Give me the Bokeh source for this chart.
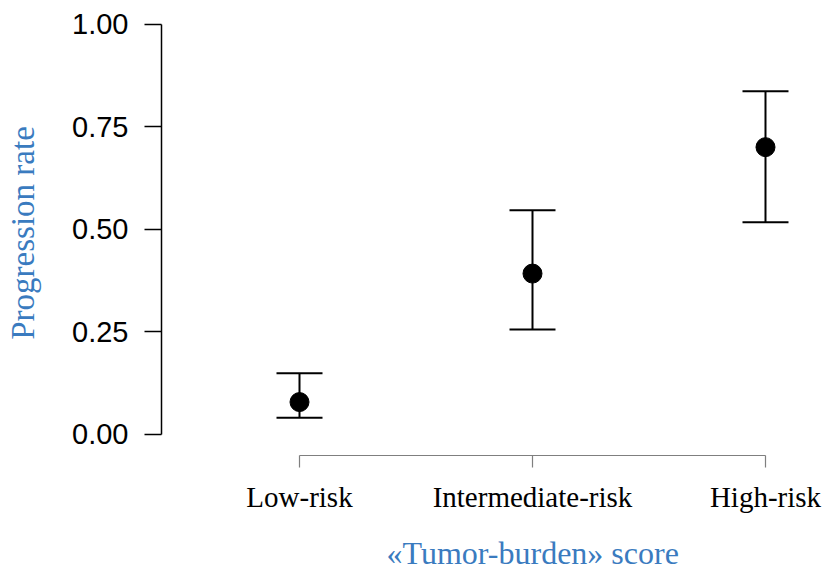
from bokeh.plotting import figure
from bokeh.models import (ColumnDataSource, Whisker, TeeHead, Range1d, FixedTicker,
                          LinearAxis, Title, CustomJSTickFormatter)
from bokeh.embed import file_html
from bokeh.resources import INLINE

# Progression rate by tumor-burden score group, with confidence limits
categories = ["Low-risk", "Intermediate-risk", "High-risk"]
positions = [1, 2, 3]
rate = [0.079, 0.392, 0.700]
lower = [0.041, 0.256, 0.517]
upper = [0.149, 0.546, 0.836]
y_ticks = [0.0, 0.25, 0.5, 0.75, 1.0]

BLUE = "#3A7BBF"

source = ColumnDataSource(data=dict(x=positions, rate=rate, lower=lower, upper=upper))

p = figure(width=823, height=572, output_backend="svg", toolbar_location=None,
           x_range=Range1d(0.4077, 3.2275), y_range=Range1d(-0.0512, 1.0329),
           x_axis_location=None, y_axis_location=None,
           min_border_left=161, min_border_right=5, min_border_top=10,
           min_border_bottom=117)
p.outline_line_color = None
p.xgrid.visible = False
p.ygrid.visible = False
p.background_fill_color = "white"
p.border_fill_color = "white"

# y axis drawn only over the 0..1 span
yaxis = LinearAxis(bounds=(0, 1), ticker=FixedTicker(ticks=y_ticks))
yaxis.formatter = CustomJSTickFormatter(code="return tick.toFixed(2);")
yaxis.axis_line_color = "black"
yaxis.axis_line_width = 1.5
yaxis.major_tick_line_color = "black"
yaxis.major_tick_line_width = 1.5
yaxis.major_tick_out = 17
yaxis.major_tick_in = 0
yaxis.minor_tick_line_color = None
yaxis.major_label_standoff = 16
yaxis.major_label_text_font = "Liberation Sans"
yaxis.major_label_text_font_size = "29px"
yaxis.major_label_text_color = "black"
yaxis.axis_label = "Progression rate"
yaxis.axis_label_text_font = "Liberation Serif"
yaxis.axis_label_text_font_style = "normal"
yaxis.axis_label_text_font_size = "33px"
yaxis.axis_label_text_color = BLUE
yaxis.axis_label_standoff = 28
p.add_layout(yaxis, "left")

# x axis spans first to last group; the blank label only adds room above the title
xaxis = LinearAxis(bounds=(1, 3), ticker=FixedTicker(ticks=positions))
xaxis.major_label_overrides = {pos: name for pos, name in zip(positions, categories)}
xaxis.axis_line_color = "#7f7f7f"
xaxis.axis_line_width = 1.2
xaxis.major_tick_line_color = "#7f7f7f"
xaxis.major_tick_line_width = 1.2
xaxis.major_tick_out = 12
xaxis.major_tick_in = 0
xaxis.minor_tick_line_color = None
xaxis.major_label_standoff = 13
xaxis.major_label_text_font = "Liberation Serif"
xaxis.major_label_text_font_size = "29px"
xaxis.major_label_text_color = "black"
xaxis.axis_label = " "
xaxis.axis_label_text_font_size = "1px"
xaxis.axis_label_standoff = 11
p.add_layout(xaxis, "below")

# x title, centred under the middle group
p.add_layout(Title(text="«Tumor-burden» score", align="left", offset=225,
                   text_font="Liberation Serif", text_font_size="32px",
                   text_font_style="normal", text_color=BLUE, standoff=4),
             "below")

whisker = Whisker(base="x", upper="upper", lower="lower", source=source,
                  dimension="height", line_color="black", line_width=2,
                  upper_head=TeeHead(size=46, line_color="black", line_width=2),
                  lower_head=TeeHead(size=46, line_color="black", line_width=2))
p.add_layout(whisker)

p.scatter("x", "rate", source=source, size=19, color="black")

open("out.html", "w").write(file_html(p, INLINE))
